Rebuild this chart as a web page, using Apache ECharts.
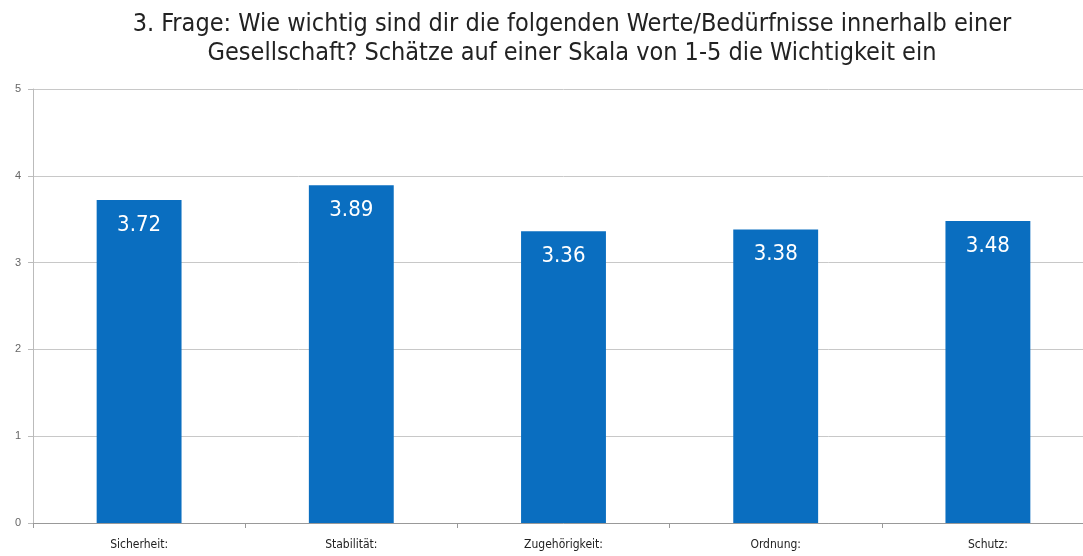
<!DOCTYPE html>
<html><head><meta charset="utf-8">
<script src="https://cdn.jsdelivr.net/npm/echarts@6/dist/echarts.min.js"></script>
<style>html,body{margin:0;padding:0;background:#fff;overflow:hidden}#c{width:1100px;height:556px}</style>
</head><body><div id="c"></div>
<script>
const titleLines = ['3. Frage: Wie wichtig sind dir die folgenden Werte/Bedürfnisse innerhalb einer', 'Gesellschaft? Schätze auf einer Skala von 1-5 die Wichtigkeit ein'];
const categories = ['Sicherheit:', 'Stabilität:', 'Zugehörigkeit:', 'Ordnung:', 'Schutz:'];
const values = [3.72, 3.89, 3.36, 3.38, 3.48];
const yTicks = [0, 1, 2, 3, 4, 5];

const chart = echarts.init(document.getElementById('c'));
chart.setOption({
  animation: false,
  title: {
    text: titleLines.join('\n'),
    left: 567, textAlign: 'center', top: 5,
    textStyle: { fontFamily: 'DejaVu Sans Condensed', fontWeight: 'normal', fontSize: 25, lineHeight: 29, color: '#222' }
  },
  grid: { left: 33, top: 89, width: 1061, height: 434, containLabel: false },
  xAxis: {
    type: 'category', data: categories,
    axisLine: { lineStyle: { color: '#999' } },
    axisTick: { show: true, length: 5, lineStyle: { color: '#999' } },
    axisLabel: { color: '#222', fontSize: 12, margin: 16, fontFamily: 'DejaVu Sans Condensed' }
  },
  yAxis: {
    type: 'value', min: 0, max: 5, interval: 1,
    axisLine: { show: true, lineStyle: { color: '#bbb' } },
    axisTick: { show: true, length: 5, lineStyle: { color: '#bbb' } },
    axisLabel: { color: '#666', fontSize: 11, margin: 12, formatter: v => yTicks.includes(v) ? String(v) : '' },
    splitLine: { lineStyle: { color: '#c8c8c8' } }
  },
  series: [{
    type: 'bar', data: values, barWidth: '40%',
    itemStyle: { color: '#0A6EC0' },
    label: { show: true, position: 'insideTop', distance: 14, color: '#fff', fontSize: 22, fontFamily: 'DejaVu Sans Condensed', formatter: p => p.value.toFixed(2) }
  }]
});
</script></body></html>
